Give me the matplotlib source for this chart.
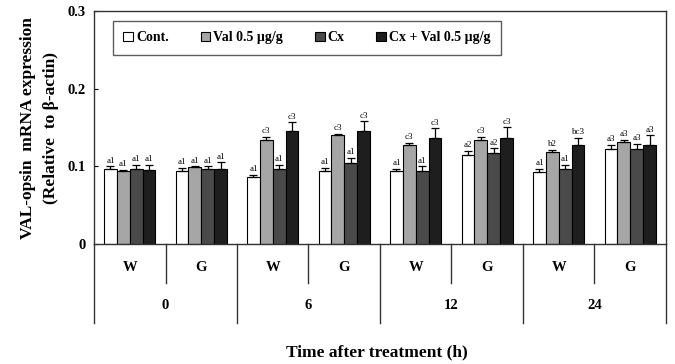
import matplotlib
matplotlib.use("Agg")
import matplotlib.pyplot as plt
import numpy as np

plt.rcParams['font.family'] = ['Liberation Serif', 'DejaVu Serif']

# data
series = ['Cont.', 'Val 0.5 \u00b5g/g', 'Cx', 'Cx + Val 0.5 \u00b5g/g']
colors = ['#ffffff', '#a6a6a6', '#4a4a4a', '#1e1e1e']
sub_labels = ['W', 'G', 'W', 'G', 'W', 'G', 'W', 'G']
time_labels = ['0', '6', '12', '24']

cont = [0.096, 0.094, 0.086, 0.094, 0.094, 0.114, 0.093, 0.122]
val = [0.0935, 0.099, 0.134, 0.140, 0.127, 0.134, 0.118, 0.131]
cx = [0.096, 0.096, 0.096, 0.104, 0.094, 0.117, 0.097, 0.122]
cxval = [0.095, 0.096, 0.145, 0.145, 0.137, 0.137, 0.127, 0.128]

cont_err = [0.004, 0.004, 0.003, 0.004, 0.003, 0.006, 0.004, 0.006]
val_err = [0.002, 0.001, 0.004, 0.002, 0.003, 0.004, 0.003, 0.003]
cx_err = [0.006, 0.004, 0.006, 0.007, 0.006, 0.006, 0.005, 0.007]
cxval_err = [0.007, 0.009, 0.012, 0.013, 0.012, 0.013, 0.010, 0.012]

cont_sig = ['a1', 'a1', 'a1', 'a1', 'a1', 'a2', 'a1', 'a3']
val_sig = ['a1', 'a1', 'c3', 'c3', 'c3', 'c3', 'b2', 'a3']
cx_sig = ['a1', 'a1', 'a1', 'a1', 'a1', 'a2', 'a1', 'a3']
cxval_sig = ['a1', 'a1', 'c3', 'c3', 'c3', 'c3', 'bc3', 'a3']

values = [cont, val, cx, cxval]
errors = [cont_err, val_err, cx_err, cxval_err]
sigs = [cont_sig, val_sig, cx_sig, cxval_sig]

fig = plt.figure(figsize=(6.75, 3.64), dpi=100)
ax = fig.add_axes([94/675, 1-244/364, 572/675, 233/364])

x = np.arange(len(sub_labels)) + 0.5
w = 0.18
for k in range(4):
    pos = x + (k - 1.5) * w
    v = np.array(values[k])
    e = np.array(errors[k])
    ax.bar(pos, v, w, color=colors[k], edgecolor='black', linewidth=0.8,
           label=series[k], zorder=2)
    ax.errorbar(pos, v, yerr=[np.zeros_like(e), e], fmt='none', ecolor='black',
                elinewidth=0.9, capsize=3, capthick=0.9, zorder=3)
    for p, top, s in zip(pos, v + e, sigs[k]):
        ax.text(p, top + 0.002, s, ha='center', va='bottom', fontsize=6.5)

ax.set_xlim(0, 8)
ax.set_ylim(0, 0.3)
ax.set_yticks([0, 0.1, 0.2, 0.3])
ax.set_yticklabels(['0', '0.1', '0.2', '0.3'], fontsize=10.5, fontweight='bold')
ax.tick_params(axis='y', direction='in', length=3, width=0.8, pad=6)
ax.set_xticks([])
for s in ax.spines.values():
    s.set_linewidth(1.0)
    s.set_color('#333333')

# category table below the axis
trans = ax.get_xaxis_transform()
for i in range(9):
    depth = -0.34 if i % 2 == 0 else -0.167
    ax.plot([i, i], [0, depth], transform=trans, color='#333333', lw=1.0, clip_on=False)
for xi, lab in zip(x, sub_labels):
    ax.text(xi, -0.099, lab, transform=trans, ha='center', va='center',
            fontsize=10.5, fontweight='bold')
for g, lab in enumerate(time_labels):
    ax.text(2 * g + 1, -0.266, lab, transform=trans, ha='center', va='center',
            fontsize=10.5, fontweight='bold')

fig.text(377/675, 1-352/364, 'Time after treatment (h)', ha='center', va='center',
         fontsize=12.5, fontweight='bold')
fig.text(28/675, 1-128/364, 'VAL-opsin  mRNA expression', rotation=90,
         ha='center', va='center', fontsize=12.5, fontweight='bold')
fig.text(51/675, 1-128/364, '(Relative  to \u03b2-actin)', rotation=90,
         ha='center', va='center', fontsize=12.5, fontweight='bold')

leg = fig.legend(loc='upper left', bbox_to_anchor=(113/675, 1-21/364), ncol=4,
                 frameon=True, fancybox=False, edgecolor='#333333',
                 handlelength=0.7, handleheight=0.7, handletextpad=0.2,
                 columnspacing=2.3, borderpad=0.75, borderaxespad=0,
                 prop={'weight': 'bold', 'size': 10})
leg.get_frame().set_linewidth(1.0)

fig.savefig('out.png', dpi=100)
